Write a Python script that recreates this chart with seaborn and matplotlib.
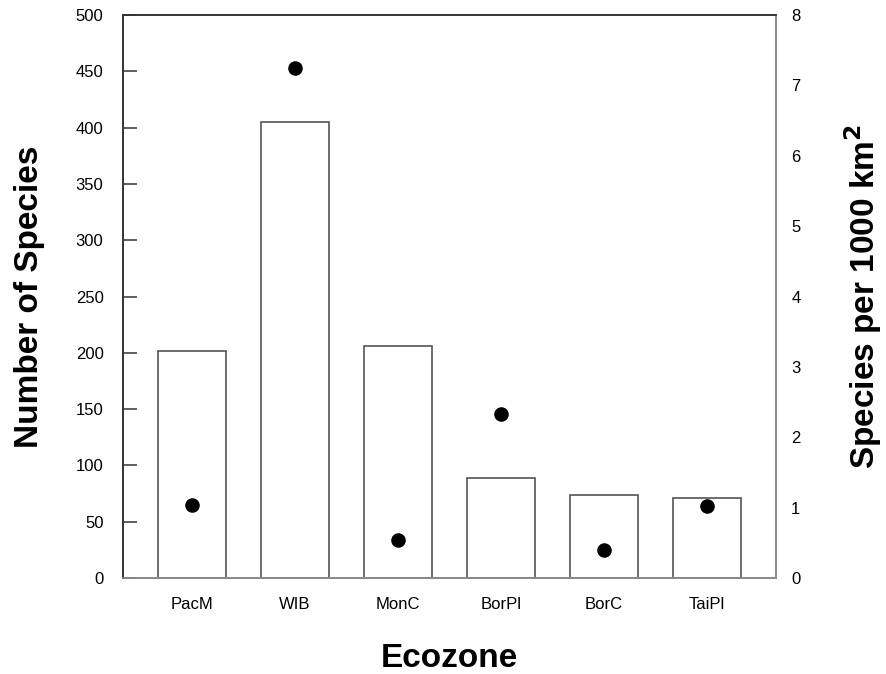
import matplotlib
matplotlib.use("Agg")
import matplotlib.pyplot as plt
import seaborn as sns
import numpy as np
import pandas as pd

categories = ["PacM", "WIB", "MonC", "BorPl", "BorC", "TaiPl"]
num_species = [202, 405, 206, 89, 74, 71]
species_per_1000km2 = [1.04, 7.25, 0.54, 2.33, 0.40, 1.02]

sns.set_theme(style="white")
plt.rcParams['font.family'] = ['Liberation Sans', 'DejaVu Sans']
plt.rcParams['text.color'] = 'black'
plt.rcParams['axes.labelcolor'] = 'black'
plt.rcParams['xtick.color'] = 'black'
plt.rcParams['ytick.color'] = 'black'
plt.rcParams['ytick.direction'] = 'in'
plt.rcParams['ytick.left'] = True

df = pd.DataFrame({"Ecozone": categories, "Species": num_species,
                   "Density": species_per_1000km2})

fig = plt.figure(figsize=(8.86, 6.74), dpi=100)
ax = fig.add_axes([0.1388, 0.1424, 0.737, 0.8353])

sns.barplot(data=df, x="Ecozone", y="Species", ax=ax, color="white",
            edgecolor="#555555", linewidth=1.2, width=0.66, saturation=1)
ax.set_ylim(0, 500)
ax.set_yticks(np.arange(0, 501, 50))
ax.set_xlim(-0.67, 5.67)

ax2 = ax.twinx()
sns.scatterplot(x=np.arange(len(categories)), y=df["Density"], ax=ax2,
                color="black", s=110, edgecolor="black", linewidth=0, zorder=5)
ax2.set_ylim(0, 8)
ax2.set_yticks(np.arange(0, 9, 1))
ax.set_xlim(-0.67, 5.67)

ax.tick_params(axis='y', which='major', direction='in', length=10, width=1.1,
               color='#333333', labelsize=12, pad=14, left=True, right=False,
               labelcolor='black')
ax.tick_params(axis='x', length=0, labelsize=12, pad=14, labelcolor='black')
ax2.tick_params(axis='y', length=0, labelsize=12, pad=11, labelcolor='black')

for a in (ax, ax2):
    for side in ["left", "top"]:
        a.spines[side].set_color("#333333")
        a.spines[side].set_linewidth(1.2)
    for side in ["right", "bottom"]:
        a.spines[side].set_color("#888888")
        a.spines[side].set_linewidth(1.2)
    for s in a.spines.values():
        s.set_visible(True)

ax.set_xlabel("Ecozone", fontsize=24, fontweight="bold", labelpad=22, color='black')
ax.set_ylabel("Number of Species", fontsize=24, fontweight="bold", labelpad=22, color='black')
ax2.set_ylabel("Species per 1000 km$^\\mathbf{2}$", fontsize=24, fontweight="bold",
               rotation=90, labelpad=30, color='black')
ax.grid(False)
ax2.grid(False)

fig.savefig("out.png", dpi=100)
